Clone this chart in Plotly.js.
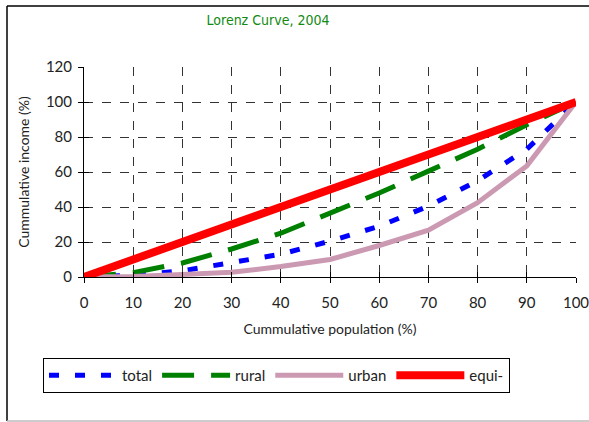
<!DOCTYPE html>
<html>
<head>
<meta charset="utf-8">
<script src="https://cdn.plot.ly/plotly-3.0.1.min.js"></script>
<style>html,body{margin:0;padding:0;background:#fff;}#chart{width:589px;height:422px;}</style>
</head>
<body>
<div id="chart"></div>
<script>
const population = [0, 10, 20, 30, 40, 50, 60, 70, 80, 90, 100];
const totalIncome = [0, 1, 3.5, 8, 13, 20.5, 29, 40.5, 55, 73, 100];
const ruralIncome = [0, 2.5, 8, 16, 25, 36.5, 48, 60.5, 73, 87, 100];
const urbanIncome = [0, 0.3, 1.5, 2.7, 6, 10, 18, 26.8, 42.5, 63.5, 100];
const equiIncome = [0, 10, 20, 30, 40, 50, 60, 70, 80, 90, 100];
const seriesNames = ["total", "rural", "urban", "equi-"];
const xTicks = [0, 10, 20, 30, 40, 50, 60, 70, 80, 90, 100];
const yTicks = [0, 20, 40, 60, 80, 100, 120];

const traces = [
  {x: population, y: totalIncome, name: seriesNames[0], mode: "lines",
   line: {color: "#0000ff", width: 5, dash: "10px,16px"}},
  {x: population, y: ruralIncome, name: seriesNames[1], mode: "lines",
   line: {color: "#008000", width: 5, dash: "32px,17px"}},
  {x: population, y: urbanIncome, name: seriesNames[2], mode: "lines",
   line: {color: "#cc99b3", width: 5}},
  {x: population, y: equiIncome, name: seriesNames[3], mode: "lines",
   line: {color: "#ff0000", width: 8}}
];

const L = 84, R = 576, T = 67, B = 277;
const px = v => (v - L) / (R - L);
const py = v => (B - v) / (B - T);

const tickFont = {family: "Lato, 'Open Sans', sans-serif", size: 15, color: "#222"};
const titleFont = {family: "Lato, 'Open Sans', sans-serif", size: 14, color: "#222"};

const layout = {
  width: 589, height: 422,
  margin: {l: 84, r: 13, t: 67, b: 145},
  paper_bgcolor: "#fff", plot_bgcolor: "#fff",
  title: {text: "Lorenz Curve, 2004", font: {family: "'DejaVu Sans Condensed', 'Liberation Sans Narrow', sans-serif", size: 14, color: "#138a13"},
          x: px(268), xref: "paper", xanchor: "center", y: 1 - 20/422, yref: "container", yanchor: "middle"},
  xaxis: {range: [0, 100], tickvals: xTicks, ticktext: xTicks.map(String), showgrid: true, gridcolor: "#333", griddash: "dash", gridwidth: 1,
          showline: true, linecolor: "#000", linewidth: 1, ticks: "outside", ticklen: 5, tickcolor: "#000", zeroline: false,
          ticklabelstandoff: 7, ticklabeloverflow: "allow",
          tickfont: tickFont, title: {text: "Cummulative population (%)", font: titleFont, standoff: 14}},
  yaxis: {range: [0, 120], tickvals: yTicks, ticktext: yTicks.map(String), showgrid: true, gridcolor: "#333", griddash: "dash", gridwidth: 1,
          showline: true, linecolor: "#000", linewidth: 1, ticks: "outside", ticklen: 5, tickcolor: "#000", zeroline: false,
          ticklabelstandoff: 3, ticklabeloverflow: "allow",
          tickfont: tickFont, title: {text: "Cummulative income (%)", font: titleFont, standoff: 12}},
  xaxis2: {overlaying: "x", matches: "x", range: [0, 100], tickvals: xTicks, showticklabels: false, showgrid: false, zeroline: false,
           ticks: "inside", ticklen: 5, tickcolor: "#000", anchor: "y"},
  yaxis2: {overlaying: "y", matches: "y", range: [0, 120], tickvals: yTicks, showticklabels: false, showgrid: false, zeroline: false,
           ticks: "inside", ticklen: 5, tickcolor: "#000", anchor: "x"},
  showlegend: true,
  legend: {orientation: "h", x: px(43), xanchor: "left", y: py(358), yanchor: "top", bordercolor: "#000", borderwidth: 1,
           bgcolor: "#fff", font: {family: "Lato, 'Open Sans', sans-serif", size: 15, color: "#222"}, itemwidth: 68, traceorder: "normal"},
  shapes: [
    {type: "line", xref: "paper", yref: "paper", x0: px(7), x1: px(7), y0: py(6), y1: py(421), line: {color: "#000", width: 1.5}},
    {type: "line", xref: "paper", yref: "paper", x0: px(7), x1: px(592), y0: py(6), y1: py(6), line: {color: "#000", width: 1.5}},
    {type: "line", xref: "paper", yref: "paper", x0: px(7), x1: px(592), y0: py(421), y1: py(421), line: {color: "#bbb", width: 1.5}}
  ]
};

traces.push({x: [0], y: [0], xaxis: "x2", yaxis: "y2", mode: "markers", marker: {opacity: 0}, showlegend: false, hoverinfo: "skip"});

Plotly.newPlot("chart", traces, layout, {displayModeBar: false, staticPlot: true});
</script>
</body>
</html>
